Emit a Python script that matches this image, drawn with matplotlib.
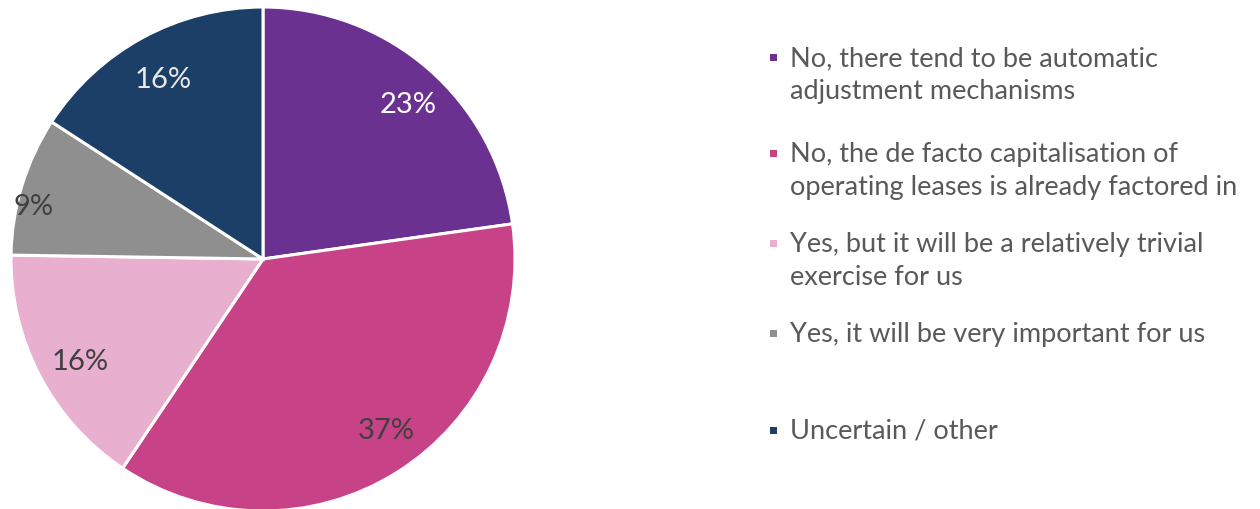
import matplotlib
matplotlib.use('Agg')
import matplotlib.pyplot as plt
import numpy as np

# Font settings for the whole figure.
plt.rcParams['font.family'] = ['Lato', 'DejaVu Sans']

######## DATA #########
labels = ['No, there tend to be automatic\nadjustment mechanisms',
          'No, the de facto capitalisation of\noperating leases is already factored in',
          'Yes, but it will be a relatively trivial\nexercise for us',
          'Yes, it will be very important for us',
          'Uncertain / other']
shares = [23, 37, 16, 9, 16]
colors = ['#6A3191', '#C74287', '#E8B0CE', '#8F8F8F', '#1B3F66']
pct_colors = ['#FFFFFF', '#404040', '#404040', '#404040', '#E8E8E8']
pct_radius = [0.83, 0.85, 0.84, 0.93, 0.80]
pct_shift = [-3, 3, 2.5, 5, 1]       # degrees, nudges label off the wedge mid-line
legend_y = [47, 143, 233, 323, 420]  # top of first text line, px from top
#######################

W, H = 1260, 510
fig = plt.figure(figsize=(W/100, H/100), dpi=100)

cx, cy, r = 263, 250, 252
ax = fig.add_axes([(cx - r)/W, (cy - r)/H, 2*r/W, 2*r/H])
wedges, _ = ax.pie(shares, colors=colors, startangle=90, counterclock=False,
                   radius=1, wedgeprops=dict(edgecolor='white', linewidth=2.2))
ax.set_xlim(-1, 1)
ax.set_ylim(-1, 1)
ax.set_aspect('equal')
ax.axis('off')
for w in wedges:
    w.set_clip_on(False)

# Percent labels inside each wedge.
for w, v, c, rf, da in zip(wedges, shares, pct_colors, pct_radius, pct_shift):
    ang = np.deg2rad((w.theta1 + w.theta2) / 2 + da)
    ax.annotate('%d%%' % v, xy=(rf*np.cos(ang), rf*np.sin(ang)), xytext=(0, 3),
                textcoords='offset points', ha='center', va='center',
                fontsize=21, color=c)

# Legend drawn by hand: square marker + wrapped text.
for lab, c, yt in zip(labels, colors, legend_y):
    fig.patches.append(plt.Rectangle(((773 - 3.5)/W, 1 - (yt + 11 + 3.5)/H), 7/W, 7/H,
                                     transform=fig.transFigure, facecolor=c,
                                     edgecolor='none'))
    fig.text(790/W, 1 - (yt - 1)/H, lab, ha='left', va='top', fontsize=19.5,
             color='#595959', linespacing=1.38)

fig.savefig('out.png', dpi=100, facecolor='white')
